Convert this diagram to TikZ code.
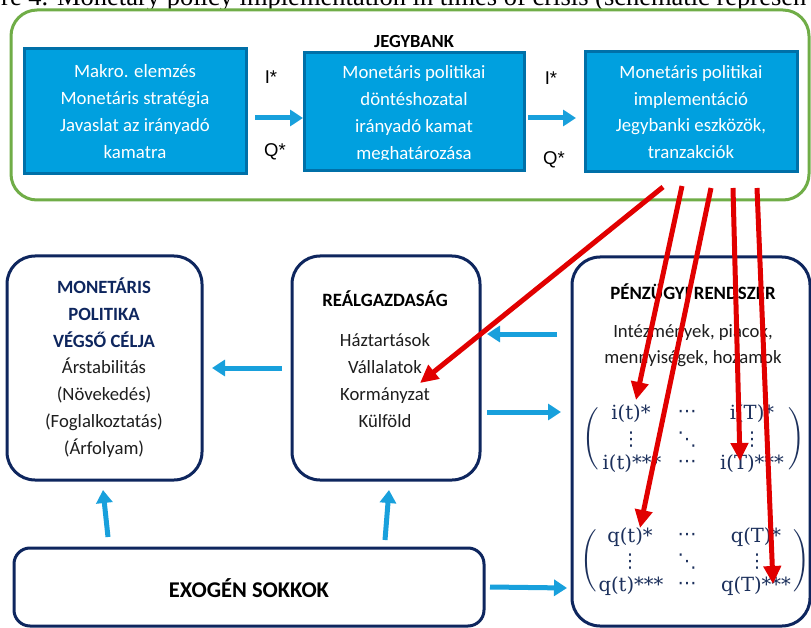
\documentclass[tikz,border=0pt]{standalone}
\usepackage[no-math]{fontspec}
\setmainfont{Carlito}
\newfontfamily\capfont{Liberation Serif}
\newfontfamily\arialfont{Liberation Sans}
\newfontfamily\mxfont{DejaVu Serif}
\newfontfamily\dotfont{DejaVu Sans}
\usepackage{amsmath}
\usetikzlibrary{arrows.meta}
\definecolor{jbfill}{RGB}{0,160,223}
\definecolor{jbline}{RGB}{0,112,168}
\definecolor{grn}{RGB}{112,173,71}
\definecolor{navy}{RGB}{14,38,94}
\definecolor{mtxcol}{RGB}{28,48,92}
\definecolor{arrblue}{RGB}{24,160,220}
\definecolor{arrred}{RGB}{225,0,0}
\definecolor{txt}{RGB}{30,30,30}
\begin{document}
\begin{tikzpicture}[x=1pt,y=-1pt,
  jbbox/.style={draw=jbline, fill=jbfill, line width=3pt, inner sep=0pt, text=white, align=center, font=\fontsize{18.8}{26.8}\selectfont},
  jbtext/.style={inner sep=0pt, text=white, align=center, font=\fontsize{18.8}{26.8}\selectfont},
  navbox/.style={draw=navy, line width=3pt, rounded corners=28pt, inner sep=0pt},
  barrow/.style={draw=arrblue, line width=5pt, -{Triangle[length=13pt,width=16pt]}},
  rarrow/.style={draw=arrred, line width=5pt, -{Triangle[length=18pt,width=17pt]}},
  lbl/.style={font=\arialfont\fontsize{18.5}{20}\selectfont, inner sep=0pt},
  mtx/.style={text=mtxcol, font=\mxfont\fontsize{19.5}{22}\selectfont, inner sep=0pt},
  dotsn/.style={text=mtxcol, font=\dotfont\fontsize{19}{22}\selectfont, inner sep=0pt},
  body/.style={align=center, text=txt, font=\fontsize{18.7}{26.8}\selectfont, inner sep=0pt},
  head/.style={font=\bfseries\fontsize{18.8}{22}\selectfont, inner sep=0pt}
]
\useasboundingbox (0,0) rectangle (811,628);
\clip (0,0) rectangle (811,628);
\fill[white] (0,0) rectangle (811,628);

% caption (cut off at top)
\node[anchor=base west, inner sep=0pt, font=\capfont\fontsize{26.5}{26.5}\selectfont] (cap) at (1,6)
  {re 4. Monetary policy implementation in times of crisis (schematic represen};

% central bank frame
\node[draw=grn, line width=3pt, rounded corners=26pt, minimum width=798pt, minimum height=190pt, inner sep=0pt] (jb) at (410,105) {};
\node[font=\bfseries\fontsize{18.5}{20}\selectfont, inner sep=0pt] (jbt) at (414,42) {JEGYBANK};

\node[jbbox, minimum width=222pt, minimum height=125pt] (b1) at (135,111.5)
  {Makro. elemzés\\Monetáris stratégia\\Javaslat az irányadó\\kamatra};
\node[jbbox, minimum width=220pt, minimum height=118pt] (b2) at (414,112) {};
\begin{scope}
  \clip (300,50) rectangle (530,160);
  \node[jbtext] (b2t) at (414,114)
    {Monetáris politikai\\döntéshozatal\\irányadó kamat\\meghatározása};
\end{scope}
\node[jbbox, minimum width=212pt, minimum height=120pt] (b3) at (691,112)
  {Monetáris politikai\\implementáció\\Jegybanki eszközök,\\tranzakciók};

\node[lbl] (i1) at (271,77) {I*};
\node[lbl] (q1) at (275,152) {Q*};
\node[lbl] (i2) at (551,78) {I*};
\node[lbl] (q2) at (554,160) {Q*};

\coordinate (t1s) at (255,118);
\coordinate (t1e) at (303,118);
\coordinate (t2s) at (528,118);
\coordinate (t2e) at (576,118);
\draw[barrow] (t1s) -- (t1e);
\draw[barrow] (t2s) -- (t2e);

% lower boxes
\node[navbox, minimum width=195pt, minimum height=224pt] (mp) at (104.5,368) {};
\node[navbox, minimum width=188pt, minimum height=224pt] (rg) at (386,368) {};
\node[navbox, minimum width=238pt, minimum height=369pt] (pr) at (691,441.5) {};
\node[navbox, rounded corners=16pt, minimum width=470pt, minimum height=78pt] (ex) at (249,587) {};

\node[body] (mpt) at (104,367.5)
  {{\bfseries\color{navy}MONETÁRIS}\\{\bfseries\color{navy}POLITIKA}\\{\bfseries\color{navy}VÉGSŐ CÉLJA}\\Árstabilitás\\(Növekedés)\\(Foglalkoztatás)\\(Árfolyam)};
\node[head] (rgh) at (385,299) {REÁLGAZDASÁG};
\node[body] (rgt) at (385,380.5) {Háztartások\\Vállalatok\\Kormányzat\\Külföld};
\node[head] (prh) at (693,292) {PÉNZÜGYI RENDSZER};
\node[body, font=\fontsize{18.7}{25.5}\selectfont] (prt) at (693,345.5) {Intézmények, piacok,\\mennyiségek, hozamok};
\node[font=\bfseries\fontsize{22.5}{26}\selectfont, inner sep=0pt] (ext) at (249,588) {EXOGÉN SOKKOK};

% matrices
\node[mtx] (i11) at (631,414) {i(t)*};
\node[dotsn] (i12) at (687,414) {⋯};
\node[mtx] (i13) at (752,414) {i(T)*};
\node[dotsn] (i21) at (631,440) {⋮};
\node[dotsn] (i22) at (687,440) {⋱};
\node[dotsn] (i23) at (752,440) {⋮};
\node[mtx] (i31) at (632,464) {i(t)***};
\node[dotsn] (i32) at (687,464) {⋯};
\node[mtx] (i33) at (752,464) {i(T)***};
\node[mtx, anchor=east] (iL) at (600,439) {$\left(\vcenter{\hbox{\rule[-31pt]{0pt}{62pt}}}\right.$};
\node[mtx, anchor=west] (iR) at (787,439) {$\left.\vcenter{\hbox{\rule[-31pt]{0pt}{62pt}}}\right)$};

\node[mtx] (q11) at (630,537) {q(t)*};
\node[dotsn] (q12) at (687,537) {⋯};
\node[mtx] (q13) at (756,537) {q(T)*};
\node[dotsn] (q21) at (630,562) {⋮};
\node[dotsn] (q22) at (687,562) {⋱};
\node[dotsn] (q23) at (757,562) {⋮};
\node[mtx] (q31) at (631,586) {q(t)***};
\node[dotsn] (q32) at (687,586) {⋯};
\node[mtx] (q33) at (756,586) {q(T)***};
\node[mtx, anchor=east] (qL) at (598,561) {$\left(\vcenter{\hbox{\rule[-31pt]{0pt}{62pt}}}\right.$};
\node[mtx, anchor=west] (qR) at (792,561) {$\left.\vcenter{\hbox{\rule[-31pt]{0pt}{62pt}}}\right)$};

% blue arrows lower part
\coordinate (a1s) at (282,368); \coordinate (a1e) at (212,368);
\coordinate (a2s) at (557,334); \coordinate (a2e) at (487,334);
\coordinate (a3s) at (487,412); \coordinate (a3e) at (561,412);
\coordinate (a4s) at (108,537); \coordinate (a4e) at (103,490);
\coordinate (a5s) at (385,540); \coordinate (a5e) at (389,490);
\coordinate (a6s) at (490,587); \coordinate (a6e) at (567,588);
\draw[barrow] (a1s) -- (a1e);
\draw[barrow] (a2s) -- (a2e);
\draw[barrow] (a3s) -- (a3e);
\draw[barrow] (a4s) -- (a4e);
\draw[barrow] (a5s) -- (a5e);
\draw[barrow] (a6s) -- (a6e);

% red arrows
\coordinate (r1s) at (663,187); \coordinate (r1e) at (420,383);
\coordinate (r2s) at (682,186); \coordinate (r2e) at (636,400);
\coordinate (r3s) at (711,188); \coordinate (r3e) at (640,528);
\coordinate (r4s) at (733,188); \coordinate (r4e) at (740,461);
\coordinate (r5s) at (757,188); \coordinate (r5e) at (773,584);
\draw[rarrow] (r1s) -- (r1e);
\draw[rarrow] (r2s) -- (r2e);
\draw[rarrow] (r3s) -- (r3e);
\draw[rarrow] (r4s) -- (r4e);
\draw[rarrow] (r5s) -- (r5e);
\end{tikzpicture}
\end{document}
